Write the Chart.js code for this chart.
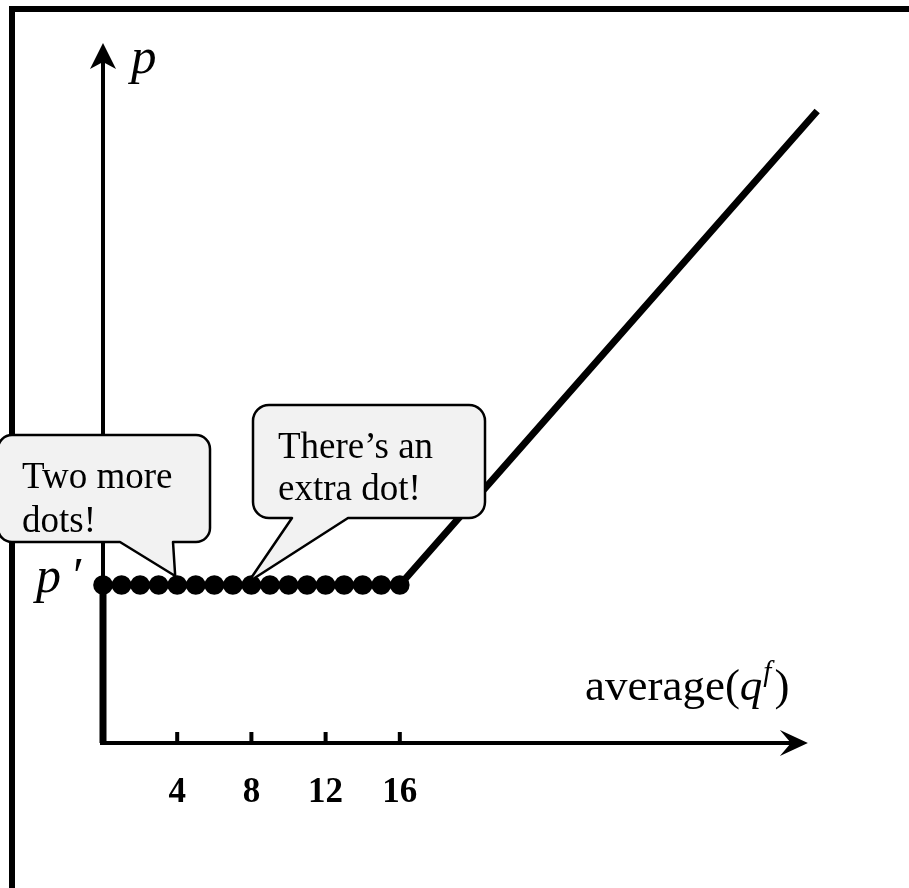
<!DOCTYPE html>
<html><head><meta charset="utf-8">
<script src="https://cdn.jsdelivr.net/npm/chart.js@4"></script>
<style>html,body{margin:0;padding:0;background:#fff;overflow:hidden}canvas{display:block}</style>
</head><body>
<canvas id="c" width="909" height="888" style="width:909px;height:888px"></canvas>
<script>
// ---- data ----
const dotX = [0,1,2,3,4,5,6,7,8,9,10,11,12,13,14,15,16];
const pPrime = 10;
const curveX = [0, 0, 16, 38.5];
const curveY = [0, 10, 10, 40];
const tickValues = [4, 8, 12, 16];
const tickLabels = ['4', '8', '12', '16'];
const xAxisEnd = 38;
const yAxisEnd = 44.3;
const callout1Lines = ['Two more', 'dots!'];
const callout1Target = 4;
const callout2Lines = ['There\u2019s an', 'extra dot!'];
const callout2Target = 8;
const yLabel = 'p';
const pPrimeLabel = ['p', '\u2032'];

const SERIF = '"Liberation Serif", "Times New Roman", serif';

function arrow(ctx, tx, ty, dx, dy, len, half, notch) {
  const px = -dy, py = dx;
  ctx.beginPath();
  ctx.moveTo(tx, ty);
  ctx.lineTo(tx - dx*len + px*half, ty - dy*len + py*half);
  ctx.lineTo(tx - dx*notch, ty - dy*notch);
  ctx.lineTo(tx - dx*len - px*half, ty - dy*len - py*half);
  ctx.closePath();
  ctx.fill();
}

const framePlugin = {
  id: 'frame',
  beforeDraw(chart) {
    const ctx = chart.ctx;
    ctx.save();
    ctx.fillStyle = '#fff';
    ctx.fillRect(0, 0, chart.width, chart.height);
    ctx.fillStyle = '#000';
    ctx.fillRect(9, 6, 900, 6);
    ctx.fillRect(9, 6, 6, 882);
    ctx.restore();
  }
};

const axesPlugin = {
  id: 'axesArrows',
  beforeDatasetsDraw(chart) {
    const ctx = chart.ctx, xs = chart.scales.x, ys = chart.scales.y;
    const ox = xs.getPixelForValue(0), oy = ys.getPixelForValue(0);
    const xe = xs.getPixelForValue(xAxisEnd), ye = ys.getPixelForValue(yAxisEnd);
    ctx.save();
    ctx.strokeStyle = '#000'; ctx.fillStyle = '#000';
    ctx.lineWidth = 4;
    ctx.beginPath();
    ctx.moveTo(ox - 3, oy); ctx.lineTo(xe - 14, oy);
    ctx.moveTo(ox, oy); ctx.lineTo(ox, ye + 18);
    ctx.stroke();
    arrow(ctx, xe, oy, 1, 0, 28, 13, 17);
    arrow(ctx, ox, ye, 0, -1, 26, 13, 19);
    tickValues.forEach(v => {
      const px = xs.getPixelForValue(v);
      ctx.fillRect(px - 2, oy - 11, 4, 13);
    });
    // axis labels
    ctx.textBaseline = 'alphabetic'; ctx.textAlign = 'left';
    ctx.font = 'italic 51px ' + SERIF;
    ctx.fillText(yLabel, 131, 73);
    ctx.font = 'italic 50px ' + SERIF;
    ctx.fillText(pPrimeLabel[0], 36, 592);
    ctx.font = 'italic 50px ' + SERIF;
    ctx.fillText(pPrimeLabel[1], 70, 592);
    let x = 585; const base = 700;
    ctx.font = '45px ' + SERIF;
    ctx.fillText('average(', x, base); x += ctx.measureText('average(').width;
    ctx.font = 'italic 45px ' + SERIF;
    ctx.fillText('q', x, base); x += ctx.measureText('q').width;
    ctx.font = 'italic 29px ' + SERIF;
    ctx.fillText('f', x + 1, base - 19); x += ctx.measureText('f').width + 4;
    ctx.font = '45px ' + SERIF;
    ctx.fillText(')', x, base);
    ctx.restore();
  }
};

function bubble(ctx, x, y, w, h, r, b1, b2, tx, ty, lines, textX, firstBase, lh) {
  ctx.save();
  ctx.beginPath();
  ctx.moveTo(x + r, y);
  ctx.lineTo(x + w - r, y);
  ctx.arcTo(x + w, y, x + w, y + r, r);
  ctx.lineTo(x + w, y + h - r);
  ctx.arcTo(x + w, y + h, x + w - r, y + h, r);
  ctx.lineTo(b2, y + h);
  ctx.lineTo(tx, ty);
  ctx.lineTo(b1, y + h);
  ctx.lineTo(x + r, y + h);
  ctx.arcTo(x, y + h, x, y + h - r, r);
  ctx.lineTo(x, y + r);
  ctx.arcTo(x, y, x + r, y, r);
  ctx.closePath();
  ctx.fillStyle = '#f2f2f2';
  ctx.fill();
  ctx.lineWidth = 2.5;
  ctx.lineJoin = 'round';
  ctx.strokeStyle = '#000';
  ctx.stroke();
  ctx.fillStyle = '#000';
  ctx.font = '37px ' + SERIF;
  ctx.textAlign = 'left'; ctx.textBaseline = 'alphabetic';
  lines.forEach((t, i) => ctx.fillText(t, textX, firstBase + i * lh));
  ctx.restore();
}

const calloutPlugin = {
  id: 'callouts',
  afterDatasetsDraw(chart) {
    const ctx = chart.ctx, xs = chart.scales.x, ys = chart.scales.y;
    const t1x = xs.getPixelForValue(callout1Target), t1y = ys.getPixelForValue(pPrime);
    const t2x = xs.getPixelForValue(callout2Target), t2y = ys.getPixelForValue(pPrime);
    bubble(ctx, -2, 435, 212, 107, 14, 120, 173, t1x - 2, t1y - 9, callout1Lines, 22, 488, 44);
    bubble(ctx, 253, 405, 232, 113, 16, 292, 348, t2x - 3, t2y - 3, callout2Lines, 278, 458, 42);
  }
};

new Chart(document.getElementById('c'), {
  type: 'scatter',
  data: {
    datasets: [
      {
        data: curveX.map((x, i) => ({ x, y: curveY[i] })),
        showLine: true, borderColor: '#000', borderWidth: 7, pointRadius: 0,
        borderJoinStyle: 'miter', clip: false, order: 2, tension: 0
      },
      {
        data: dotX.map(x => ({ x, y: pPrime })),
        showLine: false, pointRadius: 9.8, pointBackgroundColor: '#000',
        pointBorderWidth: 0, pointBorderColor: '#000', clip: false, order: 1
      }
    ]
  },
  options: {
    responsive: false, animation: false, devicePixelRatio: 1, events: [],
    layout: { padding: { left: 103, right: 64, top: 32, bottom: 0 } },
    plugins: { legend: { display: false }, tooltip: { enabled: false } },
    scales: {
      x: {
        type: 'linear', min: 0, max: 40,
        grid: { display: false, drawTicks: false },
        border: { display: false },
        afterBuildTicks: s => { s.ticks = tickValues.map(v => ({ value: v })); },
        afterFit: s => { s.height = 145; },
        ticks: {
          callback: v => { const i = tickValues.indexOf(v); return i >= 0 ? tickLabels[i] : ''; },
          font: { family: SERIF, size: 35, weight: 'bold' }, color: '#000',
          padding: 29, maxRotation: 0, autoSkip: false
        }
      },
      y: { type: 'linear', min: 0, max: 45, display: false }
    }
  },
  plugins: [framePlugin, axesPlugin, calloutPlugin]
});
</script>
</body></html>
